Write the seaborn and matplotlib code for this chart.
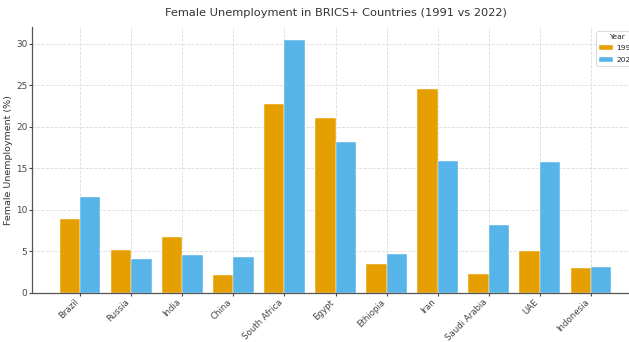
import matplotlib
matplotlib.use("Agg")
import matplotlib.pyplot as plt
import seaborn as sns
import pandas as pd

countries = ["Brazil", "Russia", "India", "China", "South Africa", "Egypt",
             "Ethiopia", "Iran", "Saudi Arabia", "UAE", "Indonesia"]
years = ["1991", "2022"]
unemp_1991 = [8.9, 5.1, 6.7, 2.1, 22.7, 21.0, 3.4, 24.5, 2.3, 5.0, 3.0]
unemp_2022 = [11.5, 4.0, 4.6, 4.3, 30.4, 18.1, 4.7, 15.9, 8.2, 15.7, 3.1]
colors = ["#E69F00", "#56B4E9"]

sns.set_theme(style="whitegrid")
plt.rcParams['font.family'] = ['DejaVu Sans']

df = pd.DataFrame({
    "Country": countries * 2,
    "Year": [years[0]] * len(countries) + [years[1]] * len(countries),
    "Unemployment": unemp_1991 + unemp_2022,
})

W, H = 629, 342
fig = plt.figure(figsize=(W / 100, H / 100), dpi=100)
left, right, top, bottom = 32, 639, 27, 292.7
ax = fig.add_axes([left / W, (H - bottom) / H, (right - left) / W, (bottom - top) / H])

sns.barplot(data=df, x="Country", y="Unemployment", hue="Year", palette=colors,
            saturation=1, edgecolor="white", linewidth=0.3, ax=ax)

ax.set_xlim(-0.94, 10.94)
ax.set_ylim(0, 32.0)
ax.set_yticks([0, 5, 10, 15, 20, 25, 30])
ax.grid(True, linestyle="--", color="#dcdcdc", linewidth=0.6)
ax.set_axisbelow(True)
for s in ["top", "right"]:
    ax.spines[s].set_visible(False)
for s in ["left", "bottom"]:
    ax.spines[s].set_color("#555555")
    ax.spines[s].set_linewidth(0.9)

ax.set_title("Female Unemployment in BRICS+ Countries (1991 vs 2022)",
             fontsize=8.2, color="#333333", pad=8)
ax.set_xlabel("")
ax.set_ylabel("Female Unemployment (%)", fontsize=6.8, color="#333333", labelpad=2)
ax.tick_params(axis="both", colors="#444444", length=2,
               width=0.8, pad=1.5, direction="out", left=True, bottom=True)
ax.tick_params(axis="y", labelsize=6.4)
ax.tick_params(axis="x", labelsize=6.2)
plt.setp(ax.get_xticklabels(), rotation=45, ha="right", rotation_mode="default")

leg = ax.legend(title="Year", loc="upper left", fontsize=5.4, title_fontsize=5.4,
                frameon=True, handlelength=1.8, handleheight=0.6,
                handletextpad=0.5, borderpad=0.4, labelspacing=0.72,
                bbox_to_anchor=(596 / W, 1 - 31 / H), bbox_transform=fig.transFigure,
                borderaxespad=0)
leg.get_frame().set_edgecolor("#cccccc")
leg.get_frame().set_linewidth(0.6)

fig.savefig("out.png", dpi=100)
